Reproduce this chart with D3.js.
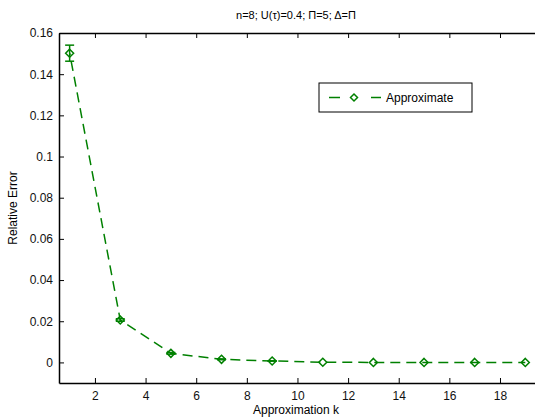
<!DOCTYPE html>
<html>
<head>
<meta charset="utf-8">
<script src="https://cdn.jsdelivr.net/npm/d3@7"></script>
<style>
  body { margin: 0; background: #fff; }
  svg { display: block; font-family: "Liberation Sans", Arial, sans-serif; }
</style>
</head>
<body>
<svg width="535" height="418"></svg>
<script>
// data
const kValues = [1, 3, 5, 7, 9, 11, 13, 15, 17, 19];
const errValues = [0.1502, 0.0206, 0.0044, 0.0015, 0.0007, 0.0001, 0.0000, 0.0000, 0.0000, 0.0000];
const errBars = [0.0039, 0.0006, 0.0004, 0.0002, 0.0001, 0.0000, 0.0000, 0.0000, 0.0000, 0.0000];
const xTicks = [2, 4, 6, 8, 10, 12, 14, 16, 18];
const yTicks = [0, 0.02, 0.04, 0.06, 0.08, 0.1, 0.12, 0.14, 0.16];
const seriesName = "Approximate";

const data = kValues.map((k, i) => ({ k, v: errValues[i], e: errBars[i] }));

const margin = { top: 33, right: -6, bottom: 35, left: 59 };
const W = 535, H = 418;
const width = W - margin.left - margin.right;
const height = H - margin.top - margin.bottom;
const green = "#008000";

const svg = d3.select("svg");
const g = svg.append("g").attr("transform", `translate(${margin.left},${margin.top})`);

const x = d3.scaleLinear().domain([0.58, 19.62]).range([0, width]);
const y = d3.scaleLinear().domain([-0.01, 0.16]).range([height, 0]);

// title
svg.append("text")
  .attr("x", 296).attr("y", 19)
  .attr("text-anchor", "middle")
  .style("font-size", "11px")
  .text("n=8; U(\u03c4)=0.4; \u03a0=5; \u0394=\u03a0");

// axes (ticks inward on all four sides)
const fmt = d => d3.format("~g")(d);
g.append("g").attr("transform", `translate(0,${height})`)
  .call(d3.axisBottom(x).tickValues(xTicks).tickSizeInner(-5).tickSizeOuter(0).tickPadding(8));
g.append("g").call(d3.axisTop(x).tickValues(xTicks).tickSizeInner(-5).tickSizeOuter(0).tickFormat(""));
g.append("g").call(d3.axisLeft(y).tickValues(yTicks).tickSizeInner(-5).tickSizeOuter(0).tickPadding(6).tickFormat(fmt));
g.append("g").attr("transform", `translate(${width},0)`)
  .call(d3.axisRight(y).tickValues(yTicks).tickSizeInner(-5).tickSizeOuter(0).tickFormat(""));
g.selectAll(".domain").attr("stroke", "#000").attr("stroke-width", 1.5);
g.selectAll(".tick line").attr("stroke", "#000");
g.selectAll(".tick text").style("font-size", "12px").attr("fill", "#111");

// axis labels
svg.append("text")
  .attr("x", 296).attr("y", 414)
  .attr("text-anchor", "middle")
  .style("font-size", "12px")
  .text("Approximation k");
svg.append("text")
  .attr("transform", `translate(17,${margin.top + y(0.075)}) rotate(-90)`)
  .attr("text-anchor", "middle")
  .style("font-size", "12px")
  .text("Relative Error");

// dashed line (straight segments between points)
const line = d3.line().x(d => x(d.k)).y(d => y(d.v));
g.append("path")
  .datum(data)
  .attr("d", line)
  .attr("fill", "none")
  .attr("stroke", green)
  .attr("stroke-width", 1.5)
  .attr("stroke-dasharray", "10,6")
  .attr("stroke-dashoffset", -8);

// error bars
const eb = g.selectAll(".eb").data(data.filter(d => d.e > 0)).enter().append("g").attr("class", "eb");
eb.append("line")
  .attr("x1", d => x(d.k)).attr("x2", d => x(d.k))
  .attr("y1", d => y(d.v - d.e)).attr("y2", d => y(d.v + d.e))
  .attr("stroke", green).attr("stroke-width", 1.5);
[-1, 1].forEach(s => {
  eb.append("line")
    .attr("x1", d => x(d.k) - 4.5).attr("x2", d => x(d.k) + 4.5)
    .attr("y1", d => y(d.v + s * d.e)).attr("y2", d => y(d.v + s * d.e))
    .attr("stroke", green).attr("stroke-width", 1.5);
});

// diamond markers
const diamond = (cx, cy, r) => `M${cx},${cy - r}L${cx + r},${cy}L${cx},${cy + r}L${cx - r},${cy}Z`;
g.selectAll(".mk").data(data).enter().append("path")
  .attr("class", "mk")
  .attr("d", d => diamond(x(d.k), y(d.v), 4))
  .attr("fill", "none")
  .attr("stroke", green)
  .attr("stroke-width", 1.5);

// legend
const lg = svg.append("g").attr("transform", "translate(319,83)");
lg.append("rect").attr("width", 153).attr("height", 29)
  .attr("fill", "#fff").attr("stroke", "#000").attr("stroke-width", 1);
lg.append("line").attr("x1", 10).attr("x2", 62).attr("y1", 14.5).attr("y2", 14.5)
  .attr("stroke", green).attr("stroke-width", 1.5).attr("stroke-dasharray", "11,31");
lg.append("path").attr("d", diamond(35, 14.5, 3.5)).attr("fill", "none")
  .attr("stroke", green).attr("stroke-width", 1.5);
lg.append("text").attr("x", 67).attr("y", 19).style("font-size", "12px").text(seriesName);
</script>
</body>
</html>
